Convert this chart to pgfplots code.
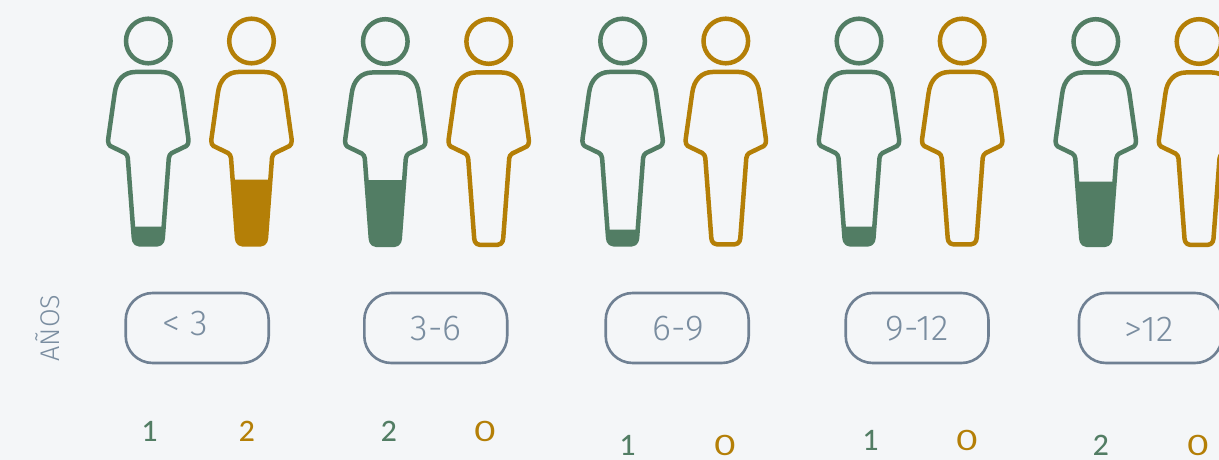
\documentclass[border=0pt]{standalone}
\usepackage{pgfplots}
\usepackage{pgfplotstable}
\usepackage{fontspec}
\pgfplotsset{compat=1.18}
\setmainfont{Lato Medium}
\newfontfamily\lab{Fira Sans Light}
\newfontfamily\reg{Lato}
\definecolor{bg}{HTML}{F4F6F8}
\definecolor{gr}{HTML}{527D64}
\definecolor{go}{HTML}{B47F07}
\definecolor{bx}{HTML}{6F8093}
\definecolor{tx}{HTML}{7A8DA0}
\newcommand{\zero}{\scalebox{1.3}[1]{\reg 0}}
\pgfplotstableread{
x y
-13.3 72
13.3 72
17.2 72.4
20.8 73.5
24 75.2
26.9 77.6
29.3 80.6
31.3 84.2
32.7 88.4
33.6 93
40 138.3
40.2 141
39.6 144
38 146
23.5 153
21.5 155
20.5 158
14.5 238
13.8 241
12 243.3
9 244.3
-9 244.3
-12 243.3
-13.8 241
-14.5 238
-20.5 158
-21.5 155
-23.5 153
-38 146
-39.6 144
-40.2 141
-40 138.3
-33.6 93
-32.7 88.4
-31.3 84.2
-29.3 80.6
-26.9 77.6
-24 75.2
-20.8 73.5
-17.2 72.4
-13.3 72
}\bodyoutline
\newcommand{\personline}[3]{%
  \addplot[draw=#3,line width=4.5pt,line join=round,forget plot] table[x expr=\thisrow{x}+#1,y expr=\thisrow{y}+#2]{\bodyoutline};
  \addplot[only marks,mark=o,mark size=22.3pt,mark options={draw=#3,line width=4.5pt},forget plot] coordinates {(#1,{41+#2})};
}
\newcommand{\person}[4]{% x, y offset, colour, fill top
  \pgfmathsetmacro{\hw}{20.5-(#4-158)*6/80}
  \edef\tmp{\noexpand\addplot[draw=none,fill=#3,forget plot] coordinates {
    ({#1-\hw},{#4+#2}) ({#1+\hw},{#4+#2}) ({#1+14.8},{238+#2}) ({#1+13.8},{241+#2}) ({#1+12},{243.3+#2}) ({#1+9},{244.3+#2})
    ({#1-9},{244.3+#2}) ({#1-12},{243.3+#2}) ({#1-13.8},{241+#2}) ({#1-14.8},{238+#2})};}\tmp
  \personline{#1}{#2}{#3}%
}
\newcommand{\pill}[2]{\draw[bx,line width=2.6pt,rounded corners=27pt] (axis cs:#1,293) rectangle (axis cs:#2,363);}
\begin{document}
\begin{tikzpicture}
\begin{axis}[scale only axis,width=1219pt,height=460pt,xmin=0,xmax=1219,ymin=0,ymax=460,y dir=reverse,hide axis,clip=true]
\addplot[draw=none,fill=bg,forget plot] coordinates {(0,0)(1219,0)(1219,460)(0,460)};
\person{148.3}{0}{gr}{226.5}
\person{251.5}{0}{go}{179.5}
\person{385.3}{0.5}{gr}{179.5}
\personline{488.7}{0.5}{go}
\person{622.6}{0}{gr}{229.5}
\personline{725.8}{0}{go}
\person{859}{0}{gr}{226.5}
\personline{962.2}{0}{go}
\person{1095.8}{0.5}{gr}{181}
\personline{1199}{0.5}{go}
\pill{125.7}{268.7}
\pill{364.3}{507.2}
\pill{605.7}{748.7}
\pill{845.7}{988.5}
\pill{1079}{1222}
\node[tx,font=\lab\fontsize{36}{36}\selectfont] at (axis cs:185.5,324) {< 3};
\node[tx,font=\lab\fontsize{36}{36}\selectfont] at (axis cs:436,329) {3-6};
\node[tx,font=\lab\fontsize{36}{36}\selectfont] at (axis cs:678,329) {6-9};
\node[tx,font=\lab\fontsize{36}{36}\selectfont] at (axis cs:917,329) {9-12};
\node[tx,font=\lab\fontsize{36}{36}\selectfont] at (axis cs:1149,329) {>12};
\node[tx,rotate=90,font=\lab\fontsize{27}{27}\selectfont] at (axis cs:48,328) {AÑOS};
\node[gr,font=\fontsize{28}{28}\selectfont] at (axis cs:150,431) {1};
\node[go,font=\fontsize{28}{28}\selectfont] at (axis cs:247,431) {2};
\node[gr,font=\fontsize{28}{28}\selectfont] at (axis cs:389,431) {2};
\node[go,font=\fontsize{28}{28}\selectfont] at (axis cs:485,431) {\zero};
\node[gr,font=\fontsize{28}{28}\selectfont] at (axis cs:628,445) {1};
\node[go,font=\fontsize{28}{28}\selectfont] at (axis cs:725,445) {\zero};
\node[gr,font=\fontsize{28}{28}\selectfont] at (axis cs:871,440) {1};
\node[go,font=\fontsize{28}{28}\selectfont] at (axis cs:967,440) {\zero};
\node[gr,font=\fontsize{28}{28}\selectfont] at (axis cs:1101,445) {2};
\node[go,font=\fontsize{28}{28}\selectfont] at (axis cs:1198,445) {\zero};
\end{axis}
\pgfresetboundingbox
\useasboundingbox (0,0) rectangle (1219pt,460pt);
\end{tikzpicture}
\end{document}
